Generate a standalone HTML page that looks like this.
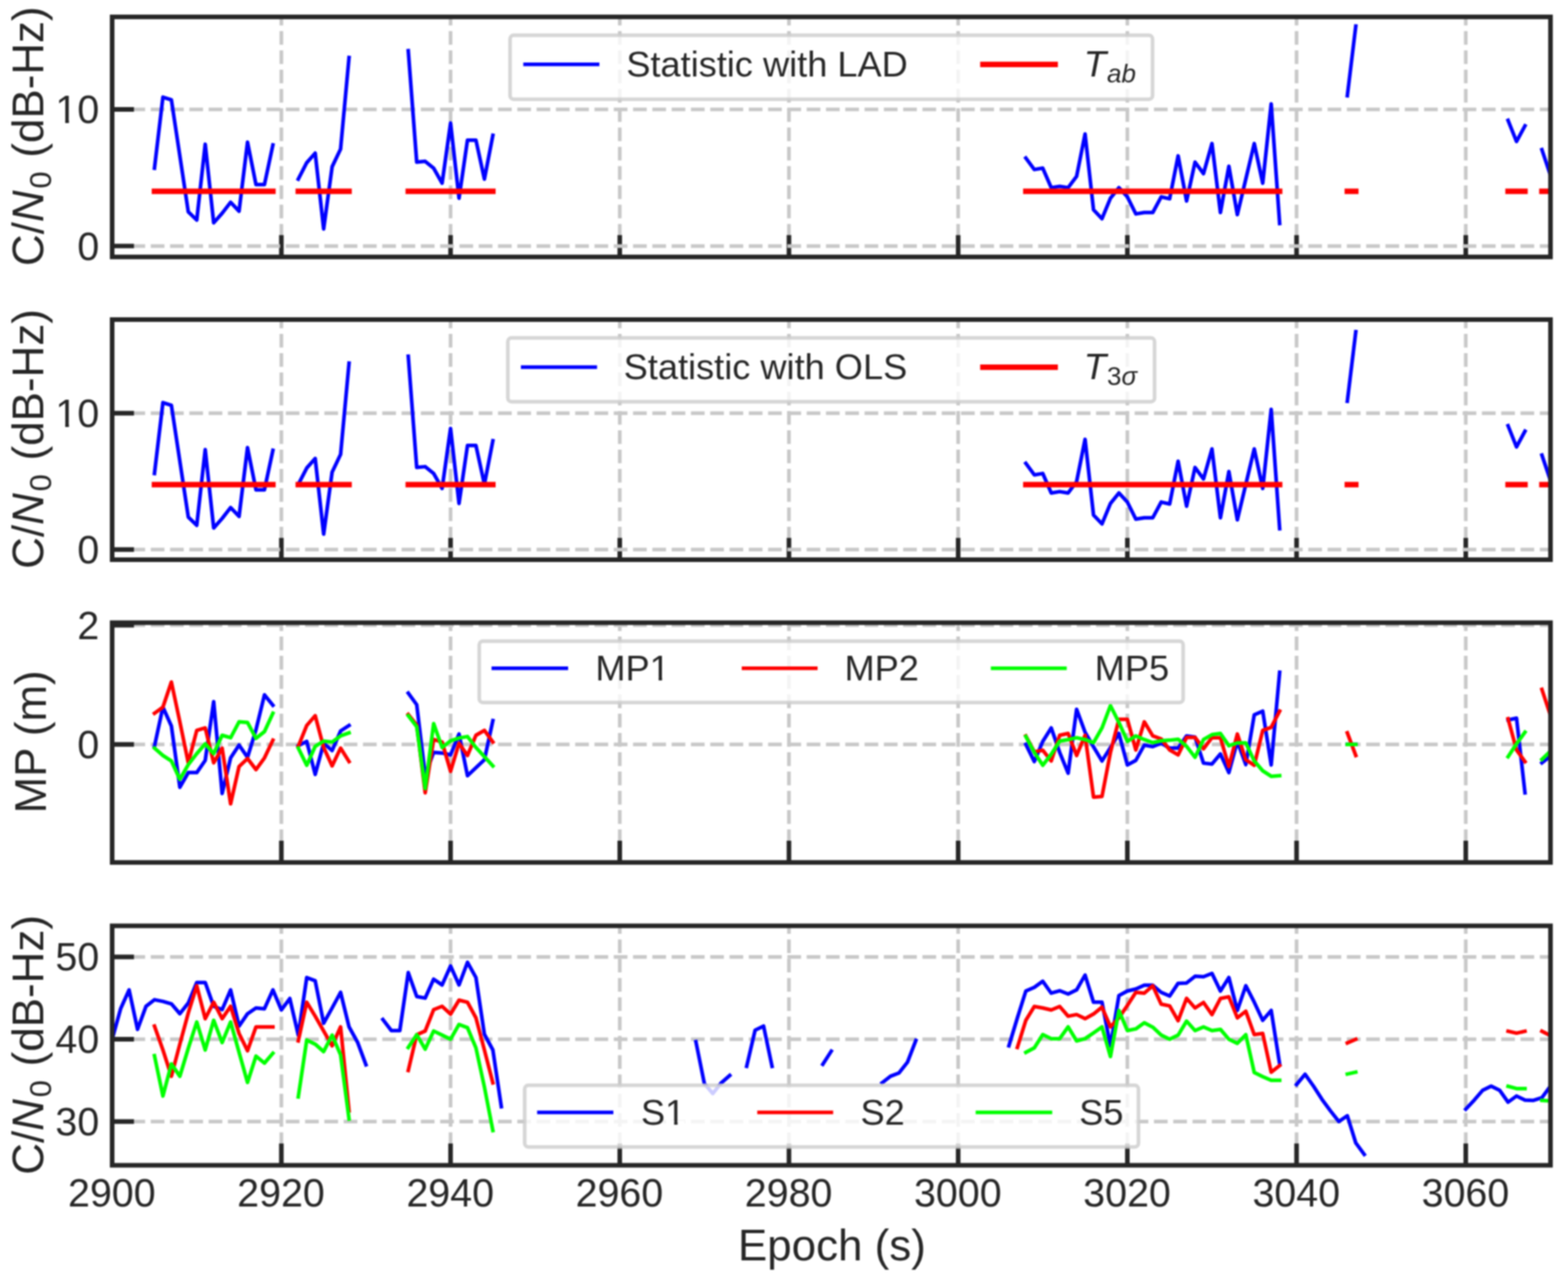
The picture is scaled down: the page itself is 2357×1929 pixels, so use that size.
<!DOCTYPE html>
<html lang="en"><head><meta charset="utf-8"><title>Epoch statistics</title>
<style>html,body{margin:0;padding:0;background:#fff}svg{display:block}text{font-family:"Liberation Sans", sans-serif;fill:#262626}</style>
</head><body>
<svg width="2357" height="1929" viewBox="0 0 2357 1929">
<rect width="2357" height="1929" fill="#fff"/>
<defs>
<filter id="soft" x="0" y="0" width="100%" height="100%" filterUnits="userSpaceOnUse" color-interpolation-filters="sRGB"><feGaussianBlur stdDeviation="0.8"/></filter>
<clipPath id="c0"><rect x="168.6" y="25.4" width="2162.1" height="360.9"/></clipPath>
<clipPath id="c1"><rect x="168.6" y="480.5" width="2162.1" height="361"/></clipPath>
<clipPath id="c2"><rect x="168.6" y="936.2" width="2162.1" height="360.5"/></clipPath>
<clipPath id="c3"><rect x="168.6" y="1392" width="2162.1" height="360"/></clipPath>
</defs>
<g filter="url(#soft)">
<rect width="2357" height="1929" fill="#fff"/>
<g id="axes1">
<g clip-path="url(#c0)">
<g stroke="#c8c8c8" stroke-width="5.5" stroke-dasharray="20.6 8.4" fill="none">
<line x1="422.94" y1="386.3" x2="422.94" y2="25.4"/>
<line x1="677.28" y1="386.3" x2="677.28" y2="25.4"/>
<line x1="931.62" y1="386.3" x2="931.62" y2="25.4"/>
<line x1="1185.96" y1="386.3" x2="1185.96" y2="25.4"/>
<line x1="1440.3" y1="386.3" x2="1440.3" y2="25.4"/>
<line x1="1694.64" y1="386.3" x2="1694.64" y2="25.4"/>
<line x1="1948.98" y1="386.3" x2="1948.98" y2="25.4"/>
<line x1="2203.32" y1="386.3" x2="2203.32" y2="25.4"/>
</g>
<g stroke="#262626" stroke-width="6.9" fill="none">
<line x1="422.94" y1="386.3" x2="422.94" y2="353.5"/>
<line x1="677.28" y1="386.3" x2="677.28" y2="353.5"/>
<line x1="931.62" y1="386.3" x2="931.62" y2="353.5"/>
<line x1="1185.96" y1="386.3" x2="1185.96" y2="353.5"/>
<line x1="1440.3" y1="386.3" x2="1440.3" y2="353.5"/>
<line x1="1694.64" y1="386.3" x2="1694.64" y2="353.5"/>
<line x1="1948.98" y1="386.3" x2="1948.98" y2="353.5"/>
<line x1="2203.32" y1="386.3" x2="2203.32" y2="353.5"/>
</g>
<g stroke="#c8c8c8" stroke-width="5.5" stroke-dasharray="20.6 8.4" fill="none">
<line x1="168.6" y1="369.9" x2="2330.7" y2="369.9"/>
<line x1="168.6" y1="164.5" x2="2330.7" y2="164.5"/>
</g>
<g stroke="#262626" stroke-width="6.9" fill="none">
<line x1="168.6" y1="369.9" x2="201.4" y2="369.9"/>
<line x1="168.6" y1="164.5" x2="201.4" y2="164.5"/>
</g>
</g>
<g clip-path="url(#c0)">
<polyline points="232.19,252.82 244.9,146.01 257.62,150.12 270.34,234.34 283.05,318.55 295.77,330.87 308.49,216.88 321.2,334.98 333.92,320.6 346.64,304.17 359.36,317.52 372.07,213.8 384.79,277.47 397.51,277.47 410.22,217.9" fill="none" stroke="#0000ff" stroke-width="5.5" stroke-linejoin="round" stroke-linecap="square"/>
<polyline points="448.37,269.25 461.09,244.61 473.81,230.23 486.52,344.22 499.24,250.77 511.96,224.07 524.68,86.45" fill="none" stroke="#0000ff" stroke-width="5.5" stroke-linejoin="round" stroke-linecap="square"/>
<polyline points="613.7,76.18 626.41,243.78 639.13,242.55 651.85,252.82 664.56,275.42 677.28,185.04 690,298.01 702.71,210.71 715.43,210.71 728.15,269.25 740.87,203.53" fill="none" stroke="#0000ff" stroke-width="5.5" stroke-linejoin="round" stroke-linecap="square"/>
<polyline points="1542.04,237.62 1554.75,254.88 1567.47,252.82 1580.19,282.19 1592.9,280.14 1605.62,282.19 1618.34,265.15 1631.06,201.47 1643.77,315.47 1656.49,328.82 1669.21,298.01 1681.92,282.19 1694.64,295.96 1707.36,321.63 1720.07,319.58 1732.79,319.58 1745.51,295.96 1758.22,298.83 1770.94,234.34 1783.66,302.12 1796.38,243.78 1809.09,261.04 1821.81,215.85 1834.53,319.58 1847.24,249.95 1859.96,322.66 1872.68,269.25 1885.39,215.85 1898.11,275.42 1910.83,156.28 1923.55,336.01" fill="none" stroke="#0000ff" stroke-width="5.5" stroke-linejoin="round" stroke-linecap="square"/>
<polyline points="2025.28,143.96 2038,39.21" fill="none" stroke="#0000ff" stroke-width="5.5" stroke-linejoin="round" stroke-linecap="square"/>
<polyline points="2266.91,180.93 2279.62,212.77 2292.34,189.15" fill="none" stroke="#0000ff" stroke-width="5.5" stroke-linejoin="round" stroke-linecap="square"/>
<polyline points="2317.77,225.09 2330.49,263.09 2343.21,300.06" fill="none" stroke="#0000ff" stroke-width="5.5" stroke-linejoin="round" stroke-linecap="square"/>
<polyline points="232.19,287.74 410.22,287.74" fill="none" stroke="#ff0000" stroke-width="8.25" stroke-linejoin="round" stroke-linecap="square"/>
<polyline points="448.37,287.74 524.68,287.74" fill="none" stroke="#ff0000" stroke-width="8.25" stroke-linejoin="round" stroke-linecap="square"/>
<polyline points="613.7,287.74 740.87,287.74" fill="none" stroke="#ff0000" stroke-width="8.25" stroke-linejoin="round" stroke-linecap="square"/>
<polyline points="1542.04,287.74 1923.55,287.74" fill="none" stroke="#ff0000" stroke-width="8.25" stroke-linejoin="round" stroke-linecap="square"/>
<polyline points="2025.28,287.74 2038,287.74" fill="none" stroke="#ff0000" stroke-width="8.25" stroke-linejoin="round" stroke-linecap="square"/>
<polyline points="2266.91,287.74 2292.34,287.74" fill="none" stroke="#ff0000" stroke-width="8.25" stroke-linejoin="round" stroke-linecap="square"/>
<polyline points="2317.77,287.74 2343.21,287.74" fill="none" stroke="#ff0000" stroke-width="8.25" stroke-linejoin="round" stroke-linecap="square"/>
</g>
<rect x="766.7" y="53" width="965.8" height="96.2" rx="5.5" ry="5.5" fill="#fff" fill-opacity="0.8" stroke="#cccccc" stroke-opacity="0.8" stroke-width="5.5"/>
<line x1="786.6" y1="96.8" x2="901" y2="96.8" stroke="#0000ff" stroke-width="5.5"/>
<text x="941.4" y="114.6" font-size="54.4">Statistic with LAD</text>
<line x1="1473.4" y1="96.8" x2="1590.2" y2="96.8" stroke="#ff0000" stroke-width="8.25"/>
<text x="1629" y="114.6" font-size="54.4"><tspan font-style="italic" font-size="55.49">T</tspan><tspan font-size="39.17" dy="9.25" dx="1"><tspan font-style="italic">ab</tspan></tspan></text>
<rect x="168.6" y="25.4" width="2162.1" height="360.9" fill="none" stroke="#262626" stroke-width="6.9"/>
<text x="149.2" y="390.59" text-anchor="end" font-size="59.2">0</text>
<text x="149.2" y="185.19" text-anchor="end" font-size="59.2">10</text>
<rect x="86.63" y="179.27" width="11.43" height="7.1" fill="#fff"/>
<rect x="103.62" y="179.27" width="11.25" height="7.1" fill="#fff"/>
<text transform="translate(65.3,204.85) rotate(-90)" text-anchor="middle" font-size="66">C/<tspan font-style="italic">N</tspan><tspan font-size="46.2" dy="11.55" dx="2.8">0</tspan><tspan dy="-11.55" dx="2.5"> (dB-Hz)</tspan></text>
</g>
<g id="axes2">
<g clip-path="url(#c1)">
<g stroke="#c8c8c8" stroke-width="5.5" stroke-dasharray="20.6 8.4" fill="none">
<line x1="422.94" y1="841.5" x2="422.94" y2="480.5"/>
<line x1="677.28" y1="841.5" x2="677.28" y2="480.5"/>
<line x1="931.62" y1="841.5" x2="931.62" y2="480.5"/>
<line x1="1185.96" y1="841.5" x2="1185.96" y2="480.5"/>
<line x1="1440.3" y1="841.5" x2="1440.3" y2="480.5"/>
<line x1="1694.64" y1="841.5" x2="1694.64" y2="480.5"/>
<line x1="1948.98" y1="841.5" x2="1948.98" y2="480.5"/>
<line x1="2203.32" y1="841.5" x2="2203.32" y2="480.5"/>
</g>
<g stroke="#262626" stroke-width="6.9" fill="none">
<line x1="422.94" y1="841.5" x2="422.94" y2="808.7"/>
<line x1="677.28" y1="841.5" x2="677.28" y2="808.7"/>
<line x1="931.62" y1="841.5" x2="931.62" y2="808.7"/>
<line x1="1185.96" y1="841.5" x2="1185.96" y2="808.7"/>
<line x1="1440.3" y1="841.5" x2="1440.3" y2="808.7"/>
<line x1="1694.64" y1="841.5" x2="1694.64" y2="808.7"/>
<line x1="1948.98" y1="841.5" x2="1948.98" y2="808.7"/>
<line x1="2203.32" y1="841.5" x2="2203.32" y2="808.7"/>
</g>
<g stroke="#c8c8c8" stroke-width="5.5" stroke-dasharray="20.6 8.4" fill="none">
<line x1="168.6" y1="826.2" x2="2330.7" y2="826.2"/>
<line x1="168.6" y1="621.3" x2="2330.7" y2="621.3"/>
</g>
<g stroke="#262626" stroke-width="6.9" fill="none">
<line x1="168.6" y1="826.2" x2="201.4" y2="826.2"/>
<line x1="168.6" y1="621.3" x2="201.4" y2="621.3"/>
</g>
</g>
<g clip-path="url(#c1)">
<polyline points="232.19,711.87 244.9,605.32 257.62,609.42 270.34,693.42 283.05,777.43 295.77,789.73 308.49,676.01 321.2,793.83 333.92,779.48 346.64,763.09 359.36,776.41 372.07,672.93 384.79,736.45 397.51,736.45 410.22,677.03" fill="none" stroke="#0000ff" stroke-width="5.5" stroke-linejoin="round" stroke-linecap="square"/>
<polyline points="448.37,728.26 461.09,703.67 473.81,689.33 486.52,803.05 499.24,709.82 511.96,683.18 524.68,545.9" fill="none" stroke="#0000ff" stroke-width="5.5" stroke-linejoin="round" stroke-linecap="square"/>
<polyline points="613.7,535.65 626.41,702.85 639.13,701.62 651.85,711.87 664.56,734.4 677.28,644.25 690,756.94 702.71,669.86 715.43,669.86 728.15,728.26 740.87,662.69" fill="none" stroke="#0000ff" stroke-width="5.5" stroke-linejoin="round" stroke-linecap="square"/>
<polyline points="1542.04,696.7 1554.75,713.91 1567.47,711.87 1580.19,741.17 1592.9,739.12 1605.62,741.17 1618.34,724.16 1631.06,660.64 1643.77,774.36 1656.49,787.68 1669.21,756.94 1681.92,741.17 1694.64,754.89 1707.36,780.51 1720.07,778.46 1732.79,778.46 1745.51,754.89 1758.22,757.76 1770.94,693.42 1783.66,761.04 1796.38,702.85 1809.09,720.06 1821.81,674.98 1834.53,778.46 1847.24,709 1859.96,781.53 1872.68,728.26 1885.39,674.98 1898.11,734.4 1910.83,615.56 1923.55,794.85" fill="none" stroke="#0000ff" stroke-width="5.5" stroke-linejoin="round" stroke-linecap="square"/>
<polyline points="2025.28,603.27 2038,498.77" fill="none" stroke="#0000ff" stroke-width="5.5" stroke-linejoin="round" stroke-linecap="square"/>
<polyline points="2266.91,640.15 2279.62,671.91 2292.34,648.35" fill="none" stroke="#0000ff" stroke-width="5.5" stroke-linejoin="round" stroke-linecap="square"/>
<polyline points="2317.77,684.2 2330.49,722.11 2343.21,758.99" fill="none" stroke="#0000ff" stroke-width="5.5" stroke-linejoin="round" stroke-linecap="square"/>
<polyline points="232.19,728.67 410.22,728.67" fill="none" stroke="#ff0000" stroke-width="8.25" stroke-linejoin="round" stroke-linecap="square"/>
<polyline points="448.37,728.67 524.68,728.67" fill="none" stroke="#ff0000" stroke-width="8.25" stroke-linejoin="round" stroke-linecap="square"/>
<polyline points="613.7,728.67 740.87,728.67" fill="none" stroke="#ff0000" stroke-width="8.25" stroke-linejoin="round" stroke-linecap="square"/>
<polyline points="1542.04,728.67 1923.55,728.67" fill="none" stroke="#ff0000" stroke-width="8.25" stroke-linejoin="round" stroke-linecap="square"/>
<polyline points="2025.28,728.67 2038,728.67" fill="none" stroke="#ff0000" stroke-width="8.25" stroke-linejoin="round" stroke-linecap="square"/>
<polyline points="2266.91,728.67 2292.34,728.67" fill="none" stroke="#ff0000" stroke-width="8.25" stroke-linejoin="round" stroke-linecap="square"/>
<polyline points="2317.77,728.67 2343.21,728.67" fill="none" stroke="#ff0000" stroke-width="8.25" stroke-linejoin="round" stroke-linecap="square"/>
</g>
<rect x="763.4" y="508.1" width="972.1" height="95.9" rx="5.5" ry="5.5" fill="#fff" fill-opacity="0.8" stroke="#cccccc" stroke-opacity="0.8" stroke-width="5.5"/>
<line x1="783" y1="552" x2="897.5" y2="552" stroke="#0000ff" stroke-width="5.5"/>
<text x="937.5" y="569.8" font-size="54.4">Statistic with OLS</text>
<line x1="1473.4" y1="552" x2="1590.2" y2="552" stroke="#ff0000" stroke-width="8.25"/>
<text x="1629" y="569.8" font-size="54.4"><tspan font-style="italic" font-size="55.49">T</tspan><tspan font-size="39.17" dy="9.25" dx="1">3<tspan font-style="italic">σ</tspan></tspan></text>
<rect x="168.6" y="480.5" width="2162.1" height="361" fill="none" stroke="#262626" stroke-width="6.9"/>
<text x="149.2" y="846.89" text-anchor="end" font-size="59.2">0</text>
<text x="149.2" y="641.99" text-anchor="end" font-size="59.2">10</text>
<rect x="86.63" y="636.07" width="11.43" height="7.1" fill="#fff"/>
<rect x="103.62" y="636.07" width="11.25" height="7.1" fill="#fff"/>
<text transform="translate(65.3,660) rotate(-90)" text-anchor="middle" font-size="66">C/<tspan font-style="italic">N</tspan><tspan font-size="46.2" dy="11.55" dx="2.8">0</tspan><tspan dy="-11.55" dx="2.5"> (dB-Hz)</tspan></text>
</g>
<g id="axes3">
<g clip-path="url(#c2)">
<g stroke="#c8c8c8" stroke-width="5.5" stroke-dasharray="20.6 8.4" fill="none">
<line x1="422.94" y1="1296.7" x2="422.94" y2="936.2"/>
<line x1="677.28" y1="1296.7" x2="677.28" y2="936.2"/>
<line x1="931.62" y1="1296.7" x2="931.62" y2="936.2"/>
<line x1="1185.96" y1="1296.7" x2="1185.96" y2="936.2"/>
<line x1="1440.3" y1="1296.7" x2="1440.3" y2="936.2"/>
<line x1="1694.64" y1="1296.7" x2="1694.64" y2="936.2"/>
<line x1="1948.98" y1="1296.7" x2="1948.98" y2="936.2"/>
<line x1="2203.32" y1="1296.7" x2="2203.32" y2="936.2"/>
</g>
<g stroke="#262626" stroke-width="6.9" fill="none">
<line x1="422.94" y1="1296.7" x2="422.94" y2="1263.9"/>
<line x1="677.28" y1="1296.7" x2="677.28" y2="1263.9"/>
<line x1="931.62" y1="1296.7" x2="931.62" y2="1263.9"/>
<line x1="1185.96" y1="1296.7" x2="1185.96" y2="1263.9"/>
<line x1="1440.3" y1="1296.7" x2="1440.3" y2="1263.9"/>
<line x1="1694.64" y1="1296.7" x2="1694.64" y2="1263.9"/>
<line x1="1948.98" y1="1296.7" x2="1948.98" y2="1263.9"/>
<line x1="2203.32" y1="1296.7" x2="2203.32" y2="1263.9"/>
</g>
<g stroke="#c8c8c8" stroke-width="5.5" stroke-dasharray="20.6 8.4" fill="none">
<line x1="168.6" y1="1119.3" x2="2330.7" y2="1119.3"/>
<line x1="168.6" y1="940.1" x2="2330.7" y2="940.1"/>
</g>
<g stroke="#262626" stroke-width="6.9" fill="none">
<line x1="168.6" y1="1119.3" x2="201.4" y2="1119.3"/>
<line x1="168.6" y1="940.1" x2="201.4" y2="940.1"/>
</g>
</g>
<g clip-path="url(#c2)">
<polyline points="232.19,1122.06 244.9,1063.18 257.62,1091.7 270.34,1183.7 283.05,1161.62 295.77,1161.62 308.49,1143.22 321.2,1054.9 333.92,1192.9 346.64,1139.54 359.36,1120.22 372.07,1138.62 384.79,1097.22 397.51,1044.78 410.22,1060.42" fill="none" stroke="#0000ff" stroke-width="5.5" stroke-linejoin="round" stroke-linecap="square"/>
<polyline points="448.37,1121.14 461.09,1114.7 473.81,1164.38 486.52,1117.46 499.24,1128.5 511.96,1099.06 524.68,1090.78" fill="none" stroke="#0000ff" stroke-width="5.5" stroke-linejoin="round" stroke-linecap="square"/>
<polyline points="613.7,1042.02 626.41,1059.5 639.13,1165.3 651.85,1131.26 664.56,1132.18 677.28,1134.94 690,1103.66 702.71,1166.22 715.43,1154.26 728.15,1142.3 740.87,1083.42" fill="none" stroke="#0000ff" stroke-width="5.5" stroke-linejoin="round" stroke-linecap="square"/>
<polyline points="1542.04,1119.3 1554.75,1145.06 1567.47,1114.7 1580.19,1094.46 1592.9,1131.26 1605.62,1162.54 1618.34,1066.4 1631.06,1100.9 1643.77,1122.98 1656.49,1144.14 1669.21,1123.9 1681.92,1102.74 1694.64,1150.12 1707.36,1143.22 1720.07,1120.22 1732.79,1122.52 1745.51,1117.46 1758.22,1124.82 1770.94,1124.82 1783.66,1106.42 1796.38,1108.26 1809.09,1147.36 1821.81,1148.74 1834.53,1133.56 1847.24,1161.62 1859.96,1114.7 1872.68,1149.66 1885.39,1074.68 1898.11,1069.16 1910.83,1150.12 1923.55,1010.74" fill="none" stroke="#0000ff" stroke-width="5.5" stroke-linejoin="round" stroke-linecap="square"/>
<polyline points="2025.28,1119.3 2038,1119.3" fill="none" stroke="#0000ff" stroke-width="5.5" stroke-linejoin="round" stroke-linecap="square"/>
<polyline points="2266.91,1082.5 2279.62,1079.74 2292.34,1191.98" fill="none" stroke="#0000ff" stroke-width="5.5" stroke-linejoin="round" stroke-linecap="square"/>
<polyline points="2317.77,1146.9 2330.49,1136.78 2343.21,1126.66" fill="none" stroke="#0000ff" stroke-width="5.5" stroke-linejoin="round" stroke-linecap="square"/>
<polyline points="232.19,1072.38 244.9,1063.18 257.62,1025.46 270.34,1085.26 283.05,1146.9 295.77,1098.14 308.49,1094.46 321.2,1146.9 333.92,1124.82 346.64,1208.54 359.36,1152.42 372.07,1140.46 384.79,1157.02 397.51,1139.54 410.22,1112.86" fill="none" stroke="#ff0000" stroke-width="5.5" stroke-linejoin="round" stroke-linecap="square"/>
<polyline points="448.37,1122.06 461.09,1090.78 473.81,1076.06 486.52,1123.9 499.24,1151.5 511.96,1124.82 524.68,1145.06" fill="none" stroke="#ff0000" stroke-width="5.5" stroke-linejoin="round" stroke-linecap="square"/>
<polyline points="613.7,1074.22 626.41,1089.86 639.13,1191.98 651.85,1111.94 664.56,1115.62 677.28,1159.78 690,1117.46 702.71,1135.86 715.43,1105.5 728.15,1098.14 740.87,1115.62" fill="none" stroke="#ff0000" stroke-width="5.5" stroke-linejoin="round" stroke-linecap="square"/>
<polyline points="1542.04,1106.42 1554.75,1130.34 1567.47,1128.04 1580.19,1144.14 1592.9,1105.5 1605.62,1102.74 1618.34,1135.86 1631.06,1105.5 1643.77,1198.42 1656.49,1197.5 1669.21,1131.26 1681.92,1081.58 1694.64,1081.58 1707.36,1127.58 1720.07,1085.26 1732.79,1106.42 1745.51,1111.02 1758.22,1127.58 1770.94,1134.94 1783.66,1108.72 1796.38,1108.72 1809.09,1125.74 1821.81,1109.18 1834.53,1109.18 1847.24,1152.42 1859.96,1103.66 1872.68,1142.3 1885.39,1150.58 1898.11,1098.14 1910.83,1093.54 1923.55,1069.16" fill="none" stroke="#ff0000" stroke-width="5.5" stroke-linejoin="round" stroke-linecap="square"/>
<polyline points="2025.28,1101.82 2038,1135.86" fill="none" stroke="#ff0000" stroke-width="5.5" stroke-linejoin="round" stroke-linecap="square"/>
<polyline points="2266.91,1080.66 2279.62,1127.58 2292.34,1145.06" fill="none" stroke="#ff0000" stroke-width="5.5" stroke-linejoin="round" stroke-linecap="square"/>
<polyline points="2317.77,1036.5 2330.49,1075.14 2343.21,1113.78" fill="none" stroke="#ff0000" stroke-width="5.5" stroke-linejoin="round" stroke-linecap="square"/>
<polyline points="232.19,1124.82 244.9,1135.86 257.62,1144.14 270.34,1171.74 283.05,1149.66 295.77,1133.1 308.49,1118.38 321.2,1133.1 333.92,1105.5 346.64,1109.18 359.36,1085.26 372.07,1086.18 384.79,1110.1 397.51,1099.98 410.22,1072.38" fill="none" stroke="#00ff00" stroke-width="5.5" stroke-linejoin="round" stroke-linecap="square"/>
<polyline points="448.37,1124.82 461.09,1150.58 473.81,1122.06 486.52,1114.24 499.24,1115.62 511.96,1106.42 524.68,1101.82" fill="none" stroke="#00ff00" stroke-width="5.5" stroke-linejoin="round" stroke-linecap="square"/>
<polyline points="613.7,1076.06 626.41,1092.62 639.13,1185.54 651.85,1088.02 664.56,1123.9 677.28,1113.78 690,1109.64 702.71,1107.34 715.43,1123.9 728.15,1137.7 740.87,1151.5" fill="none" stroke="#00ff00" stroke-width="5.5" stroke-linejoin="round" stroke-linecap="square"/>
<polyline points="1542.04,1107.34 1554.75,1131.26 1567.47,1150.58 1580.19,1134.02 1592.9,1114.24 1605.62,1111.94 1618.34,1109.18 1631.06,1111.94 1643.77,1116.54 1656.49,1094.46 1669.21,1060.88 1681.92,1086.18 1694.64,1114.7 1707.36,1106.42 1720.07,1111.94 1732.79,1116.54 1745.51,1113.78 1758.22,1112.86 1770.94,1111.48 1783.66,1122.06 1796.38,1138.62 1809.09,1111.94 1821.81,1104.58 1834.53,1102.74 1847.24,1121.14 1859.96,1117 1872.68,1117 1885.39,1144.14 1898.11,1158.86 1910.83,1167.14 1923.55,1166.22" fill="none" stroke="#00ff00" stroke-width="5.5" stroke-linejoin="round" stroke-linecap="square"/>
<polyline points="2025.28,1119.3 2038,1119.3" fill="none" stroke="#00ff00" stroke-width="5.5" stroke-linejoin="round" stroke-linecap="square"/>
<polyline points="2266.91,1137.7 2279.62,1118.38 2292.34,1100.9" fill="none" stroke="#00ff00" stroke-width="5.5" stroke-linejoin="round" stroke-linecap="square"/>
<polyline points="2317.77,1141.84 2330.49,1129.42 2343.21,1117.46" fill="none" stroke="#00ff00" stroke-width="5.5" stroke-linejoin="round" stroke-linecap="square"/>
</g>
<rect x="720.4" y="964" width="1058.1" height="92.2" rx="5.5" ry="5.5" fill="#fff" fill-opacity="0.8" stroke="#cccccc" stroke-opacity="0.8" stroke-width="5.5"/>
<line x1="738.9" y1="1004.8" x2="854" y2="1004.8" stroke="#0000ff" stroke-width="5.5"/>
<text x="895" y="1022.5" font-size="54.4">MP1</text>
<line x1="1115" y1="1004.8" x2="1229" y2="1004.8" stroke="#ff0000" stroke-width="5.5"/>
<text x="1269.5" y="1022.5" font-size="54.4">MP2</text>
<line x1="1489.4" y1="1004.8" x2="1603.5" y2="1004.8" stroke="#00ff00" stroke-width="5.5"/>
<text x="1645.6" y="1022.5" font-size="54.4">MP5</text>
<rect x="979.59" y="1017.06" width="10.5" height="6.53" fill="#fff"/>
<rect x="995.2" y="1017.06" width="10.34" height="6.53" fill="#fff"/>
<rect x="168.6" y="936.2" width="2162.1" height="360.5" fill="none" stroke="#262626" stroke-width="6.9"/>
<text x="149.2" y="1139.99" text-anchor="end" font-size="59.2">0</text>
<text x="149.2" y="960.79" text-anchor="end" font-size="59.2">2</text>
<text transform="translate(68.5,1115.45) rotate(-90)" text-anchor="middle" font-size="66">MP (m)</text>
</g>
<g id="axes4">
<g clip-path="url(#c3)">
<g stroke="#c8c8c8" stroke-width="5.5" stroke-dasharray="20.6 8.4" fill="none">
<line x1="422.94" y1="1752" x2="422.94" y2="1392"/>
<line x1="677.28" y1="1752" x2="677.28" y2="1392"/>
<line x1="931.62" y1="1752" x2="931.62" y2="1392"/>
<line x1="1185.96" y1="1752" x2="1185.96" y2="1392"/>
<line x1="1440.3" y1="1752" x2="1440.3" y2="1392"/>
<line x1="1694.64" y1="1752" x2="1694.64" y2="1392"/>
<line x1="1948.98" y1="1752" x2="1948.98" y2="1392"/>
<line x1="2203.32" y1="1752" x2="2203.32" y2="1392"/>
</g>
<g stroke="#262626" stroke-width="6.9" fill="none">
<line x1="422.94" y1="1752" x2="422.94" y2="1719.2"/>
<line x1="677.28" y1="1752" x2="677.28" y2="1719.2"/>
<line x1="931.62" y1="1752" x2="931.62" y2="1719.2"/>
<line x1="1185.96" y1="1752" x2="1185.96" y2="1719.2"/>
<line x1="1440.3" y1="1752" x2="1440.3" y2="1719.2"/>
<line x1="1694.64" y1="1752" x2="1694.64" y2="1719.2"/>
<line x1="1948.98" y1="1752" x2="1948.98" y2="1719.2"/>
<line x1="2203.32" y1="1752" x2="2203.32" y2="1719.2"/>
</g>
<g stroke="#c8c8c8" stroke-width="5.5" stroke-dasharray="20.6 8.4" fill="none">
<line x1="168.6" y1="1686.2" x2="2330.7" y2="1686.2"/>
<line x1="168.6" y1="1562.5" x2="2330.7" y2="1562.5"/>
<line x1="168.6" y1="1438.8" x2="2330.7" y2="1438.8"/>
</g>
<g stroke="#262626" stroke-width="6.9" fill="none">
<line x1="168.6" y1="1686.2" x2="201.4" y2="1686.2"/>
<line x1="168.6" y1="1562.5" x2="201.4" y2="1562.5"/>
<line x1="168.6" y1="1438.8" x2="201.4" y2="1438.8"/>
</g>
</g>
<g clip-path="url(#c3)">
<polyline points="155.88,1611.98 168.6,1562.5 181.32,1516.73 194.03,1488.28 206.75,1547.66 219.47,1513.02 232.19,1503.12 244.9,1505.6 257.62,1509.31 270.34,1524.15 283.05,1508.07 295.77,1477.15 308.49,1477.15 321.2,1513.02 333.92,1517.97 346.64,1488.28 359.36,1542.71 372.07,1524.15 384.79,1515.49 397.51,1516.73 410.22,1488.28 422.94,1518.46 435.66,1501.27 448.37,1556.32 461.09,1469.73 473.81,1474.67 486.52,1538.38 499.24,1515.49 511.96,1491.99 524.68,1543.95 537.39,1566.83 550.11,1600.85" fill="none" stroke="#0000ff" stroke-width="5.5" stroke-linejoin="round" stroke-linecap="square"/>
<polyline points="575.54,1532.81 588.26,1549.51 600.98,1549.51 613.7,1462.3 626.41,1498.18 639.13,1500.65 651.85,1472.2 664.56,1480.86 677.28,1452.41 690,1480.86 702.71,1446.84 715.43,1469.73 728.15,1555.08 740.87,1578.58 753.58,1663.93" fill="none" stroke="#0000ff" stroke-width="5.5" stroke-linejoin="round" stroke-linecap="square"/>
<polyline points="1046.07,1566.21 1058.79,1629.3 1071.51,1644.14 1084.22,1628.06 1096.94,1616.93" fill="none" stroke="#0000ff" stroke-width="5.5" stroke-linejoin="round" stroke-linecap="square"/>
<polyline points="1122.38,1603.32 1135.09,1548.89 1147.81,1542.71 1160.53,1603.32" fill="none" stroke="#0000ff" stroke-width="5.5" stroke-linejoin="round" stroke-linecap="square"/>
<polyline points="1236.83,1600.23 1249.54,1580.44" fill="none" stroke="#0000ff" stroke-width="5.5" stroke-linejoin="round" stroke-linecap="square"/>
<polyline points="1325.85,1628.06 1338.56,1618.17 1351.28,1613.22 1364,1597.14 1376.71,1564.36" fill="none" stroke="#0000ff" stroke-width="5.5" stroke-linejoin="round" stroke-linecap="square"/>
<polyline points="1516.6,1572.4 1529.32,1530.34 1542.04,1490.01 1554.75,1484.57 1567.47,1475.29 1580.19,1493.23 1592.9,1489.52 1605.62,1494.47 1618.34,1488.28 1631.06,1466.01 1643.77,1506.84 1656.49,1506.84 1669.21,1572.4 1681.92,1496.94 1694.64,1490.01 1707.36,1487.04 1720.07,1481.35 1732.79,1481.35 1745.51,1491.99 1758.22,1497.56 1770.94,1478.38 1783.66,1477.89 1796.38,1467.87 1809.09,1468.49 1821.81,1463.54 1834.53,1490.01 1847.24,1469.73 1859.96,1519.21 1872.68,1482.1 1885.39,1506.84 1898.11,1534.05 1910.83,1519.21 1923.55,1599.61" fill="none" stroke="#0000ff" stroke-width="5.5" stroke-linejoin="round" stroke-linecap="square"/>
<polyline points="1948.98,1630.54 1961.7,1615.2 1974.41,1633.01 1987.13,1652.8 1999.85,1670.12 2012.57,1686.2 2025.28,1677.54 2038,1718.36 2050.72,1735.68" fill="none" stroke="#0000ff" stroke-width="5.5" stroke-linejoin="round" stroke-linecap="square"/>
<polyline points="2203.32,1667.65 2216.04,1654.04 2228.75,1639.19 2241.47,1633.01 2254.19,1639.19 2266.91,1657.13 2279.62,1647.85 2292.34,1654.04 2305.06,1654.41 2317.77,1650.33 2330.49,1633.01 2343.21,1618.17" fill="none" stroke="#0000ff" stroke-width="5.5" stroke-linejoin="round" stroke-linecap="square"/>
<polyline points="232.19,1542.71 244.9,1578.58 257.62,1618.17 270.34,1569.92 283.05,1522.92 295.77,1482.1 308.49,1531.58 321.2,1506.84 333.92,1531.58 346.64,1513.02 359.36,1553.84 372.07,1579.82 384.79,1543.95 397.51,1543.95 410.22,1543.95" fill="none" stroke="#ff0000" stroke-width="5.5" stroke-linejoin="round" stroke-linecap="square"/>
<polyline points="448.37,1564.97 461.09,1506.84 473.81,1527.86 486.52,1550.13 499.24,1572.4 511.96,1543.95 524.68,1670.12" fill="none" stroke="#ff0000" stroke-width="5.5" stroke-linejoin="round" stroke-linecap="square"/>
<polyline points="613.7,1609.51 626.41,1555.7 639.13,1550.13 651.85,1517.97 664.56,1513.02 677.28,1524.77 690,1503.74 702.71,1506.84 715.43,1530.34 728.15,1578.58 740.87,1628.06" fill="none" stroke="#ff0000" stroke-width="5.5" stroke-linejoin="round" stroke-linecap="square"/>
<polyline points="1529.32,1574.87 1542.04,1534.05 1554.75,1513.27 1567.47,1515.49 1580.19,1518.46 1592.9,1513.27 1605.62,1527.86 1618.34,1525.39 1631.06,1531.58 1643.77,1524.52 1656.49,1514.26 1669.21,1543.95 1681.92,1530.34 1694.64,1511.78 1707.36,1491.99 1720.07,1493.23 1732.79,1482.1 1745.51,1509.8 1758.22,1512.4 1770.94,1534.67 1783.66,1501.02 1796.38,1515.49 1809.09,1507.21 1821.81,1525.39 1834.53,1501.27 1847.24,1498.67 1859.96,1530.34 1872.68,1520.44 1885.39,1555.57 1898.11,1553.84 1910.83,1611.98 1923.55,1602.08" fill="none" stroke="#ff0000" stroke-width="5.5" stroke-linejoin="round" stroke-linecap="square"/>
<polyline points="2025.28,1568.07 2038,1562.5" fill="none" stroke="#ff0000" stroke-width="5.5" stroke-linejoin="round" stroke-linecap="square"/>
<polyline points="2266.91,1550.5 2279.62,1553.35 2292.34,1550.5" fill="none" stroke="#ff0000" stroke-width="5.5" stroke-linejoin="round" stroke-linecap="square"/>
<polyline points="2317.77,1550.5 2330.49,1556.93 2343.21,1563.74" fill="none" stroke="#ff0000" stroke-width="5.5" stroke-linejoin="round" stroke-linecap="square"/>
<polyline points="232.19,1587.24 244.9,1647.85 257.62,1599.61 270.34,1618.17 283.05,1576.11 295.77,1536.52 308.49,1578.58 321.2,1534.05 333.92,1567.45 346.64,1536.52 359.36,1582.29 372.07,1627.44 384.79,1587.86 397.51,1598.37 410.22,1583.53" fill="none" stroke="#00ff00" stroke-width="5.5" stroke-linejoin="round" stroke-linecap="square"/>
<polyline points="448.37,1649.09 461.09,1563.74 473.81,1569.92 486.52,1581.06 499.24,1556.32 511.96,1586 524.68,1682.49" fill="none" stroke="#00ff00" stroke-width="5.5" stroke-linejoin="round" stroke-linecap="square"/>
<polyline points="613.7,1574.87 626.41,1555.7 639.13,1577.34 651.85,1550.13 664.56,1556.32 677.28,1562.5 690,1540.23 702.71,1545.18 715.43,1575.49 728.15,1634.25 740.87,1699.81" fill="none" stroke="#00ff00" stroke-width="5.5" stroke-linejoin="round" stroke-linecap="square"/>
<polyline points="1542.04,1582.29 1554.75,1575.49 1567.47,1555.57 1580.19,1561.63 1592.9,1561.63 1605.62,1543.95 1618.34,1564.97 1631.06,1561.63 1643.77,1552.98 1656.49,1543.95 1669.21,1588.48 1681.92,1519.21 1694.64,1549.51 1707.36,1546.91 1720.07,1537.76 1732.79,1544.32 1745.51,1556.32 1758.22,1562.5 1770.94,1556.32 1783.66,1535.29 1796.38,1549.51 1809.09,1543.95 1821.81,1549.51 1834.53,1547.66 1847.24,1562.5 1859.96,1568.69 1872.68,1555.57 1885.39,1612.6 1898.11,1618.66 1910.83,1624.35 1923.55,1624.35" fill="none" stroke="#00ff00" stroke-width="5.5" stroke-linejoin="round" stroke-linecap="square"/>
<polyline points="2025.28,1614.83 2038,1611.98" fill="none" stroke="#00ff00" stroke-width="5.5" stroke-linejoin="round" stroke-linecap="square"/>
<polyline points="2266.91,1633.26 2279.62,1636.72 2292.34,1636.72" fill="none" stroke="#00ff00" stroke-width="5.5" stroke-linejoin="round" stroke-linecap="square"/>
<polyline points="2317.77,1654.41 2330.49,1655.28 2343.21,1656.51" fill="none" stroke="#00ff00" stroke-width="5.5" stroke-linejoin="round" stroke-linecap="square"/>
</g>
<rect x="788.7" y="1631.8" width="922.6" height="92.6" rx="5.5" ry="5.5" fill="#fff" fill-opacity="0.8" stroke="#cccccc" stroke-opacity="0.8" stroke-width="5.5"/>
<line x1="807.4" y1="1672.6" x2="922" y2="1672.6" stroke="#0000ff" stroke-width="5.5"/>
<text x="963.6" y="1690.5" font-size="54.4">S1</text>
<line x1="1138.3" y1="1672.6" x2="1252.4" y2="1672.6" stroke="#ff0000" stroke-width="5.5"/>
<text x="1293.4" y="1690.5" font-size="54.4">S2</text>
<line x1="1466.6" y1="1672.6" x2="1581.7" y2="1672.6" stroke="#00ff00" stroke-width="5.5"/>
<text x="1622.3" y="1690.5" font-size="54.4">S5</text>
<rect x="1002.88" y="1685.06" width="10.5" height="6.53" fill="#fff"/>
<rect x="1018.49" y="1685.06" width="10.34" height="6.53" fill="#fff"/>
<rect x="168.6" y="1392" width="2162.1" height="360" fill="none" stroke="#262626" stroke-width="6.9"/>
<text x="149.2" y="1706.89" text-anchor="end" font-size="59.2">30</text>
<text x="149.2" y="1583.19" text-anchor="end" font-size="59.2">40</text>
<text x="149.2" y="1459.49" text-anchor="end" font-size="59.2">50</text>
<text transform="translate(65.3,1571) rotate(-90)" text-anchor="middle" font-size="66">C/<tspan font-style="italic">N</tspan><tspan font-size="46.2" dy="11.55" dx="2.8">0</tspan><tspan dy="-11.55" dx="2.5"> (dB-Hz)</tspan></text>
</g>
<text x="168.1" y="1813.7" text-anchor="middle" font-size="59.2">2900</text>
<text x="422.44" y="1813.7" text-anchor="middle" font-size="59.2">2920</text>
<text x="676.78" y="1813.7" text-anchor="middle" font-size="59.2">2940</text>
<text x="931.12" y="1813.7" text-anchor="middle" font-size="59.2">2960</text>
<text x="1185.46" y="1813.7" text-anchor="middle" font-size="59.2">2980</text>
<text x="1439.8" y="1813.7" text-anchor="middle" font-size="59.2">3000</text>
<text x="1694.14" y="1813.7" text-anchor="middle" font-size="59.2">3020</text>
<text x="1948.48" y="1813.7" text-anchor="middle" font-size="59.2">3040</text>
<text x="2202.82" y="1813.7" text-anchor="middle" font-size="59.2">3060</text>
<text x="1250.5" y="1895.3" text-anchor="middle" font-size="66">Epoch (s)</text>
</g>
</svg></body></html>
